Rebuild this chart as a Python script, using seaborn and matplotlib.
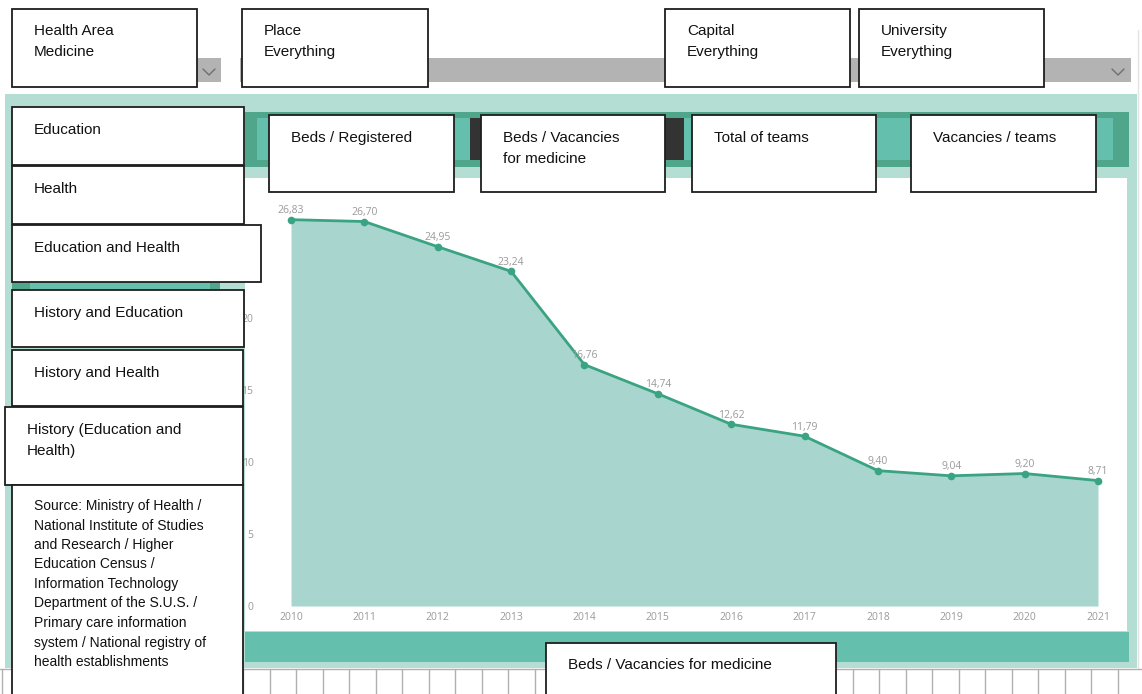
import numpy as np
import seaborn as sb
import matplotlib.pyplot as plt
from matplotlib.patches import Rectangle

# chart data
years = [2010, 2011, 2012, 2013, 2014, 2015, 2016, 2017, 2018, 2019, 2020, 2021]
beds_per_vacancy = [26.83, 26.70, 24.95, 23.24, 16.76, 14.74, 12.62, 11.79, 9.40, 9.04, 9.20, 8.71]
y_ticks = [0, 5, 10, 15, 20, 25]

# filter / button labels
filter_labels = ['Health Area\nMedicine', 'Place\nEverything', 'Capital\nEverything', 'University\nEverything']
tab_labels = ['Beds / Registered', 'Beds / Vacancies\nfor medicine', 'Total of teams', 'Vacancies / teams']
side_labels = ['Education', 'Health', 'Education and Health', 'History and Education',
               'History and Health', 'History (Education and\nHealth)']
source_lines = ['Source: Ministry of Health /', 'National Institute of Studies',
                'and Research / Higher', 'Education Census /', 'Information Technology',
                'Department of the S.U.S. /', 'Primary care information',
                'system / National registry of', 'health establishments']
axis_title = 'Leitos / Vagas Medicina'
bottom_label = 'Beds / Vacancies for medicine'

W, H = 1142, 694
LIGHT_TEAL = '#b4ddd4'
DARK_TEAL = '#4fa68b'
MID_TEAL = '#65bfad'
AREA = '#a8d6ce'
LINE = '#3aa382'
LABEL_GRAY = '#9a9a9a'

sb.set_style('white')
plt.rcParams['font.family'] = ['Liberation Sans', 'DejaVu Sans']


def rect(ax, x0, y0, x1, y1, color, **kw):
    ax.add_patch(Rectangle((x0, y0), x1 - x0, y1 - y0, facecolor=color,
                           edgecolor=kw.pop('edgecolor', 'none'), **kw))


def pixel_axes(fig, z):
    a = fig.add_axes([0, 0, 1, 1])
    a.set_xlim(0, W)
    a.set_ylim(H, 0)
    a.axis('off')
    a.set_zorder(z)
    return a


def box(ax, x0, y0, x1, y1, label, size=11, base=27, step=21):
    rect(ax, x0, y0, x1, y1, 'white', edgecolor='#1e1e1e', linewidth=1.3)
    for i, line in enumerate(label.split('\n')):
        ax.text(x0 + 22, y0 + base + i * step, line, fontsize=size, color='#111111',
                va='baseline', ha='left')


fig = plt.figure(figsize=(W / 100, H / 100), dpi=100)
bg = pixel_axes(fig, 1)

# dropdown bars
rect(bg, 12, 58, 221, 82, '#b3b3b3')
rect(bg, 240, 58, 1131, 82, '#b3b3b3')
for cx in [209, 1118]:
    bg.plot([cx - 6, cx, cx + 6], [69, 75, 69], color='#6f6f6f', lw=1)
bg.plot([1138, 1138], [30, 668], color='#e3e3e3', lw=1)

# report panel
rect(bg, 5, 94, 1137, 668, LIGHT_TEAL)
rect(bg, 245, 112, 1129, 167, DARK_TEAL)
for x0, x1, c in [(257, 470, MID_TEAL), (470, 684, '#333333'),
                  (684, 897, MID_TEAL), (897, 1113, MID_TEAL)]:
    rect(bg, x0, 118, x1, 160, c)
rect(bg, 12, 280, 220, 292, DARK_TEAL)
rect(bg, 30, 283, 210, 289, MID_TEAL)
rect(bg, 245, 178, 1127, 631, 'white')
rect(bg, 245, 632, 1129, 662, MID_TEAL)
bg.text(686, 652, axis_title, fontsize=10, color='white', ha='center', va='center',
        family=['Open Sans', 'DejaVu Sans'])

# table grid under the panel
bg.plot([0, W], [669, 669], color='#b0b0b0', lw=1)
for gx in np.arange(243, 1135, 26.5):
    bg.plot([gx, gx], [669, H], color='#b0b0b0', lw=1)
bg.plot([2, 2], [669, H], color='#b0b0b0', lw=1)

# area chart
x0, x1, ybase, ytop = 291, 1098, 606, 200
px_per_unit = 14.4
ax = fig.add_axes([x0 / W, 1 - ybase / H, (x1 - x0) / W, (ybase - ytop) / H])
ax.set_zorder(2)
ax.fill_between(years, beds_per_vacancy, color=AREA, linewidth=0)
sb.lineplot(x=years, y=beds_per_vacancy, ax=ax, color=LINE, linewidth=2,
            marker='o', markersize=5.5, markeredgewidth=0)
for ln in ax.lines:
    ln.set_clip_on(False)
for yr, v in zip(years, beds_per_vacancy):
    ax.annotate(f'{v:.2f}'.replace('.', ','), (yr, v), xytext=(0, 2.5), textcoords='offset points',
                ha='center', va='bottom', fontsize=7.5, color=LABEL_GRAY,
                family=['Open Sans', 'DejaVu Sans'])
ax.set_xlim(2010, 2021)
ax.set_ylim(0, (ybase - ytop) / px_per_unit)
ax.set_xticks(years)
ax.set_xticklabels([str(y) for y in years])
ax.set_yticks(y_ticks)
ax.set_yticklabels([str(t) for t in y_ticks])
ax.tick_params(axis='x', length=0, pad=4, labelsize=7.5, labelcolor=LABEL_GRAY)
ax.tick_params(axis='y', length=0, pad=27, labelsize=7.5, labelcolor=LABEL_GRAY)
for lab in ax.get_xticklabels() + ax.get_yticklabels():
    lab.set_family(['Open Sans', 'DejaVu Sans'])
for s in ax.spines.values():
    s.set_visible(False)
ax.set_facecolor('none')
ax.set_xlabel('')
ax.set_ylabel('')

# overlay boxes
top = pixel_axes(fig, 3)
for lab, (bx0, bx1) in zip(filter_labels, [(12, 197), (242, 428), (665, 850), (859, 1044)]):
    box(top, bx0, 9, bx1, 87, lab, base=26)
for lab, (bx0, bx1) in zip(tab_labels, [(269, 454), (481, 665), (692, 876), (911, 1096)]):
    box(top, bx0, 115, bx1, 192, lab)
side_pos = [(12, 107, 244, 165), (12, 166, 244, 224), (12, 225, 261, 282),
            (12, 290, 244, 347), (12, 350, 243, 406), (5, 407, 243, 485)]
for lab, (bx0, by0, bx1, by1) in zip(side_labels, side_pos):
    box(top, bx0, by0, bx1, by1, lab)
box(top, 12, 485, 243, 720, '\n'.join(source_lines), size=10, base=25, step=19.5)
box(top, 546, 643, 836, 720, bottom_label, base=26)

fig.savefig('out.png', dpi=100)
